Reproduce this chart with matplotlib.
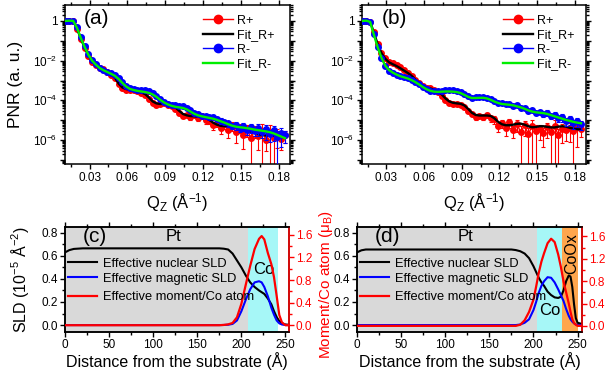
import numpy as np
import matplotlib
matplotlib.use('Agg')
import matplotlib.pyplot as plt
from matplotlib.lines import Line2D
from matplotlib.ticker import FixedLocator, FuncFormatter, MultipleLocator, LogLocator, NullFormatter, FormatStrFormatter

plt.rcParams['font.family'] = ['Liberation Sans', 'DejaVu Sans']
plt.rcParams['mathtext.fontset'] = 'custom'
plt.rcParams['mathtext.rm'] = 'Liberation Sans'
plt.rcParams['mathtext.it'] = 'Liberation Sans:italic'
plt.rcParams['mathtext.bf'] = 'Liberation Sans:bold'
plt.rcParams['mathtext.default'] = 'regular'

# ---------------- PNR data (log10 of reflectivity) ----------------
q_data = [0.011, 0.014, 0.017, 0.020, 0.023, 0.026, 0.029, 0.032, 0.035, 0.038,
          0.041, 0.044, 0.047, 0.050, 0.053, 0.056, 0.059, 0.062, 0.065, 0.068,
          0.071, 0.074, 0.077, 0.080, 0.083, 0.086, 0.089, 0.092, 0.095, 0.098,
          0.101, 0.104, 0.107, 0.110, 0.113, 0.116, 0.119, 0.122, 0.125, 0.128,
          0.131, 0.134, 0.137, 0.140, 0.143, 0.146, 0.149, 0.152, 0.155, 0.158,
          0.161, 0.164, 0.167, 0.170, 0.173, 0.176, 0.179, 0.182, 0.185]

# panel (a)
rp_a = [0.00, 0.00, -0.02, -0.40, -0.90, -1.35, -1.75, -2.05, -2.22, -2.35,
        -2.44, -2.55, -2.70, -2.88, -3.20, -3.40, -3.48, -3.47, -3.48, -3.55,
        -3.62, -3.75, -3.95, -4.15, -4.25, -4.20, -4.15, -4.22, -4.30, -4.45,
        -4.65, -4.80, -4.75, -4.85, -4.75, -4.90, -4.80, -5.00, -5.05, -5.25,
        -5.15, -5.40, -5.20, -5.50, -5.25, -5.60, -5.35, -5.75, -5.45, -5.90,
        -5.50, -5.80, -5.55, -6.00, -5.60, -5.90, -5.70, -5.95, -5.75]
rp_a_err = [0]*30 + [0.15, 0.2, 0.15, 0.25, 0.2, 0.3, 0.25, 0.35, 0.3, 0.4,
                     0.35, 0.5, 0.4, 0.6, 0.5, 0.7, 0.5, 0.8, 0.6, 1.1,
                     0.6, 0.8, 1.2, 0.7, 1.2, 1.1, 0.8, 0.7, 0.6]
fit_p_a = [0.00, 0.01, 0.00, -0.38, -0.88, -1.33, -1.73, -2.03, -2.22, -2.35,
           -2.45, -2.55, -2.68, -2.85, -3.15, -3.35, -3.43, -3.46, -3.50, -3.56,
           -3.60, -3.68, -3.85, -4.05, -4.15, -4.18, -4.18, -4.20, -4.25, -4.35,
           -4.52, -4.68, -4.75, -4.79, -4.80, -4.82, -4.85, -4.88, -4.98, -5.12,
           -5.22, -5.28, -5.30, -5.30, -5.30, -5.31, -5.34, -5.40, -5.48, -5.56,
           -5.62, -5.70, -5.75, -5.76, -5.76, -5.77, -5.80, -5.84, -5.88]
rm_a = [0.00, 0.01, -0.02, -0.33, -0.82, -1.27, -1.68, -1.98, -2.18, -2.36,
        -2.47, -2.57, -2.64, -2.72, -2.86, -3.08, -3.28, -3.40, -3.44, -3.46,
        -3.48, -3.50, -3.55, -3.64, -3.78, -3.95, -4.08, -4.17, -4.24, -4.25,
        -4.27, -4.30, -4.38, -4.50, -4.64, -4.70, -4.78, -4.80, -4.85, -4.82,
        -4.95, -5.02, -5.08, -5.15, -5.30, -5.25, -5.40, -5.30, -5.50, -5.35,
        -5.55, -5.40, -5.60, -5.45, -5.70, -5.50, -5.85, -5.65, -5.75]
rm_a_err = [0]*30 + [0.1, 0.15, 0.1, 0.15, 0.15, 0.2, 0.15, 0.2, 0.2, 0.25,
                     0.2, 0.3, 0.25, 0.35, 0.3, 0.4, 0.35, 0.45, 0.4, 0.5,
                     0.45, 0.6, 0.5, 0.7, 0.6, 0.7, 1.1, 0.8, 0.6]
fit_m_a = [0.00, 0.01, 0.00, -0.35, -0.85, -1.30, -1.70, -2.00, -2.20, -2.37,
           -2.48, -2.57, -2.66, -2.76, -2.92, -3.12, -3.30, -3.42, -3.48, -3.52,
           -3.55, -3.58, -3.62, -3.70, -3.82, -3.97, -4.10, -4.20, -4.27, -4.32,
           -4.35, -4.38, -4.45, -4.56, -4.67, -4.75, -4.80, -4.84, -4.88, -4.92,
           -4.98, -5.05, -5.12, -5.20, -5.27, -5.32, -5.35, -5.37, -5.40, -5.43,
           -5.47, -5.50, -5.53, -5.56, -5.60, -5.66, -5.74, -5.82, -5.90]

# panel (b)
rp_b = [0.00, 0.01, -0.04, -0.58, -1.15, -1.60, -1.88, -2.05, -2.14, -2.22,
        -2.32, -2.46, -2.60, -2.75, -2.96, -3.14, -3.28, -3.36, -3.40, -3.47,
        -3.60, -3.78, -3.98, -4.15, -4.20, -4.18, -4.22, -4.35, -4.55, -4.70,
        -4.85, -4.78, -4.85, -4.72, -4.90, -4.95, -5.30, -5.15, -5.40, -5.10,
        -5.50, -5.20, -5.60, -5.25, -5.70, -5.30, -5.55, -5.45, -5.65, -5.35,
        -5.60, -5.30, -5.75, -5.45, -5.50, -5.40, -5.55, -5.35, -5.45]
rp_b_err = [0]*30 + [0.3, 0.2, 0.3, 0.25, 0.35, 0.4, 0.5, 0.45, 0.6, 0.5,
                     0.6, 0.6, 1.1, 0.7, 1.1, 1.1, 1.1, 0.7, 0.8, 0.7,
                     1.1, 1.1, 1.1, 0.8, 0.7, 0.8, 1.1, 0.9, 0.6]
fit_p_b = [0.00, 0.01, -0.04, -0.60, -1.18, -1.62, -1.90, -2.08, -2.18, -2.27,
           -2.38, -2.50, -2.62, -2.76, -2.95, -3.12, -3.27, -3.36, -3.40, -3.45,
           -3.55, -3.70, -3.90, -4.05, -4.12, -4.15, -4.17, -4.25, -4.42, -4.62,
           -4.73, -4.76, -4.76, -4.76, -4.78, -4.90, -5.08, -5.20, -5.25, -5.25,
           -5.22, -5.18, -5.17, -5.22, -5.30, -5.35, -5.34, -5.30, -5.30, -5.33,
           -5.36, -5.36, -5.32, -5.30, -5.32, -5.38, -5.42, -5.45, -5.46]
rm_b = [0.00, 0.01, -0.05, -0.68, -1.32, -1.87, -2.28, -2.50, -2.63, -2.72,
        -2.79, -2.84, -2.89, -2.96, -3.06, -3.19, -3.33, -3.45, -3.53, -3.55,
        -3.54, -3.52, -3.50, -3.49, -3.50, -3.54, -3.60, -3.70, -3.80, -3.86,
        -3.84, -3.82, -3.84, -3.88, -3.95, -4.04, -4.12, -4.15, -4.20, -4.18,
        -4.26, -4.25, -4.38, -4.40, -4.52, -4.50, -4.62, -4.58, -4.68, -4.62,
        -4.80, -4.72, -4.90, -4.85, -5.05, -4.95, -5.15, -5.05, -5.20]
rm_b_err = [0]*30 + [0.05, 0.05, 0.05, 0.08, 0.08, 0.1, 0.1, 0.1, 0.12, 0.12,
                     0.15, 0.15, 0.15, 0.2, 0.2, 0.2, 0.25, 0.25, 0.3, 0.3,
                     0.3, 0.35, 0.35, 0.4, 0.4, 0.5, 0.5, 0.5, 0.5]
fit_m_b = [0.00, 0.01, -0.05, -0.70, -1.33, -1.85, -2.25, -2.47, -2.60, -2.70,
           -2.78, -2.84, -2.90, -2.98, -3.08, -3.20, -3.33, -3.44, -3.52, -3.56,
           -3.57, -3.56, -3.55, -3.55, -3.56, -3.58, -3.63, -3.72, -3.82, -3.88,
           -3.88, -3.87, -3.87, -3.90, -3.97, -4.06, -4.13, -4.18, -4.20, -4.22,
           -4.25, -4.30, -4.35, -4.42, -4.50, -4.56, -4.60, -4.62, -4.64, -4.68,
           -4.74, -4.80, -4.86, -4.92, -4.98, -5.03, -5.08, -5.12, -5.15]

pnr_legend = ['R+', 'Fit_R+', 'R-', 'Fit_R-']
q_ticks = [0.03, 0.06, 0.09, 0.12, 0.15, 0.18]

# ---------------- SLD profiles ----------------
dist_c = [0, 5, 10, 20, 50, 100, 150, 175, 180, 185, 190, 195, 200, 205, 210,
          215, 220, 223, 226, 230, 234, 237, 240, 243, 246, 250, 254]
nuc_c = [0.63, 0.65, 0.66, 0.665, 0.665, 0.665, 0.665, 0.665, 0.662, 0.655, 0.62,
         0.56, 0.50, 0.43, 0.37, 0.33, 0.30, 0.285, 0.27, 0.23, 0.18, 0.12, 0.07,
         0.035, 0.015, 0.005, 0.003]
mag_c = [0, 0, 0, 0, 0, 0, 0, 0, 0.001, 0.003, 0.01, 0.04, 0.12, 0.22, 0.31,
         0.37, 0.38, 0.37, 0.33, 0.25, 0.15, 0.09, 0.04, 0.015, 0.005, 0.0, 0.0]
mom_c = [0, 0, 0, 0, 0, 0, 0, 0, 0.005, 0.015, 0.04, 0.14, 0.38, 0.72, 1.05,
         1.35, 1.53, 1.58, 1.52, 1.28, 1.08, 0.85, 0.52, 0.18, 0.05, 0.0, 0.0]

dist_d = [0, 5, 10, 20, 50, 100, 150, 175, 180, 185, 190, 195, 200, 203, 206,
          209, 212, 216, 220, 224, 228, 231, 234, 237, 240, 242, 244, 246, 248,
          250, 255]
nuc_d = [0.63, 0.648, 0.655, 0.655, 0.655, 0.655, 0.655, 0.655, 0.65, 0.64, 0.62,
         0.58, 0.51, 0.46, 0.41, 0.37, 0.34, 0.29, 0.26, 0.24, 0.235, 0.245, 0.30,
         0.38, 0.43, 0.42, 0.33, 0.18, 0.06, 0.02, 0.01]
mag_d = [0, 0, 0, 0, 0, 0, 0, 0, 0.0, 0.005, 0.02, 0.05, 0.13, 0.2, 0.28, 0.34,
         0.38, 0.415, 0.41, 0.37, 0.31, 0.26, 0.21, 0.14, 0.08, 0.05, 0.03, 0.015,
         0.005, 0.0, 0.0]
mom_d = [0, 0, 0, 0, 0, 0, 0, 0, 0.0, 0.02, 0.1, 0.25, 0.47, 0.70, 0.95, 1.15,
         1.30, 1.48, 1.56, 1.50, 1.28, 1.06, 0.80, 0.60, 0.40, 0.25, 0.12, 0.05,
         0.02, 0.0, 0.0]

layers_c = [(0, 207, '#d9d9d9'), (207, 241, '#a6f7f7')]
layers_d = [(0, 204.5, '#d9d9d9'), (204.5, 232, '#a6f7f7'), (232, 250, '#ffa64d')]
sld_legend = ['Effective nuclear SLD', 'Effective magnetic SLD', 'Effective moment/Co atom']

# ---------------- figure ----------------
W, H = 605, 380
fig = plt.figure(figsize=(W / 100, H / 100), dpi=100)


def ax_px(l, r, t, b):
    return fig.add_axes([l / W, 1 - b / H, (r - l) / W, (b - t) / H])


def log_fmt(v, pos):
    k = int(round(np.log10(v)))
    if k == 0:
        return '1'
    if k % 2 == 0:
        return '$10^{%d}$' % k
    return ''


def style_common(ax):
    for s in ax.spines.values():
        s.set_linewidth(1.1)
    ax.tick_params(which='both', direction='out', top=True, right=True, width=1.0,
                   labelsize=8.5)
    ax.tick_params(which='major', length=3.5, pad=2)
    ax.tick_params(which='minor', length=2)


def pnr_panel(ax, rp, rp_err, fit_p, rm, rm_err, fit_m, tag, leg_x, tag_x):
    q = np.array(q_data)
    yp = 10 ** np.array(rp)
    ym = 10 ** np.array(rm)
    ax.set_yscale('log')
    ax.errorbar(q, yp, yerr=yp * np.array(rp_err), fmt='-o', color='#ff0000', ms=4,
                lw=1, elinewidth=0.8, capsize=1.5, capthick=0.8, zorder=2)
    ax.plot(q, 10 ** np.array(fit_p), color='black', lw=1.7, zorder=3)
    ax.errorbar(q, ym, yerr=ym * np.array(rm_err), fmt='-o', color='#0000ff', ms=4,
                lw=1, elinewidth=0.8, capsize=1.5, capthick=0.8, zorder=4)
    ax.plot(q, 10 ** np.array(fit_m), color='#00ee00', lw=1.7, zorder=5)
    ax.set_xlim(0.0105, 0.189)
    ax.set_ylim(10 ** -7.2, 10 ** 0.8)
    style_common(ax)
    ax.xaxis.set_major_locator(FixedLocator(q_ticks))
    ax.xaxis.set_major_formatter(FormatStrFormatter('%.2f'))
    ax.xaxis.set_minor_locator(MultipleLocator(0.015))
    ax.yaxis.set_major_locator(FixedLocator([10.0 ** k for k in range(-7, 1)]))
    ax.yaxis.set_major_formatter(FuncFormatter(log_fmt))
    ax.yaxis.set_minor_locator(LogLocator(base=10, subs=np.arange(2, 10), numticks=20))
    ax.yaxis.set_minor_formatter(NullFormatter())
    ax.set_xlabel('Q$_Z$ (Å$^{-1}$)', fontsize=12)
    ax.xaxis.set_label_coords(0.5, -0.17)
    ax.text(tag_x, 0.912, tag, transform=ax.transAxes, fontsize=15, ha='center', va='center')
    handles = [Line2D([], [], color='#ff0000', marker='o', ms=6, lw=1),
               Line2D([], [], color='black', lw=1.7),
               Line2D([], [], color='#0000ff', marker='o', ms=6, lw=1),
               Line2D([], [], color='#00ee00', lw=1.7)]
    ax.legend(handles, pnr_legend, loc='upper left', bbox_to_anchor=(leg_x, 0.94),
              frameon=False, fontsize=9, handlelength=2.4, handletextpad=0.3,
              labelspacing=0.2, borderpad=0, borderaxespad=0, numpoints=1)


def sld_panel(ax, dist, nuc, mag, mom, layers, tag, xmax, rlim):
    for a, b, c in layers:
        ax.axvspan(a, b, color=c, lw=0, zorder=0)
    l1, = ax.plot(dist, nuc, color='black', lw=1.5, zorder=3)
    l2, = ax.plot(dist, mag, color='#0000ff', lw=1.5, zorder=3)
    ax.set_xlim(0, xmax)
    ax.set_ylim(-0.06, 0.85)
    style_common(ax)
    ax.tick_params(right=False)
    ax.xaxis.set_major_locator(MultipleLocator(50))
    ax.xaxis.set_minor_locator(MultipleLocator(25))
    ax.yaxis.set_major_locator(MultipleLocator(0.2))
    ax.yaxis.set_minor_locator(MultipleLocator(0.1))
    ax.yaxis.set_major_formatter(FormatStrFormatter('%.1f'))
    ax.tick_params(axis='both', which='major', pad=1.5)
    ax.set_xlabel('Distance from the substrate (Å)', fontsize=11.5)
    ax.xaxis.set_label_coords(0.5, -0.19)
    axr = ax.twinx()
    l3, = axr.plot(dist, mom, color='#ff0000', lw=1.6, zorder=4)
    axr.set_ylim(*rlim)
    axr.yaxis.set_major_locator(MultipleLocator(0.4))
    axr.yaxis.set_minor_locator(MultipleLocator(0.2))
    axr.yaxis.set_major_formatter(FormatStrFormatter('%.1f'))
    axr.tick_params(axis='y', which='both', colors='#ff0000', direction='out',
                    labelsize=8.5, width=1.0)
    axr.tick_params(axis='y', which='major', length=3.5, pad=1.5)
    axr.tick_params(axis='y', which='minor', length=2)
    for s in axr.spines.values():
        s.set_linewidth(1.1)
    axr.spines['right'].set_color('#ff0000')
    ax.text(0.135, 0.905, tag, transform=ax.transAxes, fontsize=15, ha='center', va='center')
    ax.text(123, 0.765, 'Pt', fontsize=12, ha='center', va='center')
    leg1 = axr.legend([l1, l2], sld_legend[:2], loc='upper left', bbox_to_anchor=(0.012, 0.705),
                      frameon=False, fontsize=9.3, handlelength=2.3, handletextpad=0.4,
                      labelspacing=0.22, borderpad=0, borderaxespad=0)
    axr.add_artist(leg1)
    axr.legend([l3], sld_legend[2:], loc='upper left', bbox_to_anchor=(0.012, 0.39),
               frameon=False, fontsize=9.3, handlelength=2.3, handletextpad=0.4,
               borderpad=0, borderaxespad=0)
    return axr


ax_a = ax_px(65, 290, 5, 164)
pnr_panel(ax_a, rp_a, rp_a_err, fit_p_a, rm_a, rm_a_err, fit_m_a, '(a)', 0.613, 0.142)
ax_a.set_ylabel('PNR (a. u.)', fontsize=12.5, ha='center', va='center')
ax_a.yaxis.set_label_coords(-0.222, 0.5)

ax_b = ax_px(362, 586, 5, 164)
pnr_panel(ax_b, rp_b, rp_b_err, fit_p_b, rm_b, rm_b_err, fit_m_b, '(b)', 0.63, 0.147)

ax_c = ax_px(65, 289, 227, 332)
axr_c = sld_panel(ax_c, dist_c, nuc_c, mag_c, mom_c, layers_c, '(c)', 254, (-0.12, 1.74))
ax_c.set_ylabel('SLD (10$^{-5}$ Å$^{-2}$)', fontsize=11.5, ha='center', va='center')
ax_c.yaxis.set_label_coords(-0.2, 0.5)
axr_c.set_ylabel('Moment/Co atom (μ$_B$)', fontsize=11, color='#ff0000', ha='center', va='center')
axr_c.yaxis.set_label_coords(1.165, 0.45)
ax_c.text(226, 0.48, 'Co', fontsize=12, ha='center', va='center')

ax_d = ax_px(357, 582, 227, 332)
axr_d = sld_panel(ax_d, dist_d, nuc_d, mag_d, mom_d, layers_d, '(d)', 255, (-0.11, 1.77))
ax_d.text(219, 0.13, 'Co', fontsize=12, ha='center', va='center')
ax_d.text(243, 0.62, 'CoOx', fontsize=11.5, rotation=90, ha='center', va='center')

fig.savefig('out.png', dpi=100)
